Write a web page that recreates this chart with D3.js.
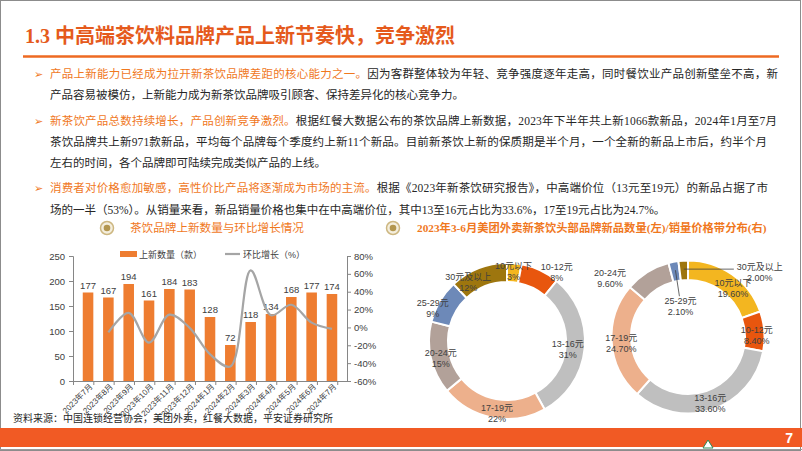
<!DOCTYPE html>
<html>
<head>
<meta charset="utf-8">
<script src="https://cdnjs.cloudflare.com/ajax/libs/d3/7.8.5/d3.min.js"></script>
<style>
  body { margin: 0; background: #fff; }
  svg { display: block; }
</style>
</head>
<body>
<div id="page"></div>
<script>
// ---- data ----
const months = ['2023年7月', '2023年8月', '2023年9月', '2023年10月', '2023年11月', '2023年12月',
  '2024年1月', '2024年2月', '2024年3月', '2024年4月', '2024年5月', '2024年6月', '2024年7月'];
const newCount = [177, 167, 194, 161, 184, 183, 128, 72, 118, 134, 168, 177, 174];
const momGrowth = [null, -5.6, 16.2, -17.0, 14.3, -0.5, -30.1, -43.8, 63.9, 13.6, 25.4, 5.4, -1.7];
const countTicks = [0, 50, 100, 150, 200, 250];
const growthTicks = [-60, -40, -20, 0, 20, 40, 60, 80];

const priceBands = ['10元以下', '10-12元', '13-16元', '17-19元', '20-24元', '25-29元', '30元及以上'];
const newProductShare = [3, 8, 31, 22, 15, 9, 12];
const salesShare = [19.6, 8.4, 33.6, 24.7, 9.6, 2.1, 2.0];

const paragraphs = [
  [['产品上新能力已经成为拉开新茶饮品牌差距的核心能力之一。', '因为客群整体较为年轻、竞争强度逐年走高，同时餐饮业产品创新壁垒不高，新'],
   ['', '产品容易被模仿，上新能力成为新茶饮品牌吸引顾客、保持差异化的核心竞争力。']],
  [['新茶饮产品总数持续增长，产品创新竞争激烈。', '根据红餐大数据公布的茶饮品牌上新数据，2023年下半年共上新1066款新品，2024年1月至7月'],
   ['', '茶饮品牌共上新971款新品，平均每个品牌每个季度约上新11个新品。目前新茶饮上新的保质期是半个月，一个全新的新品上市后，约半个月'],
   ['', '左右的时间，各个品牌即可陆续完成类似产品的上线。']],
  [['消费者对价格愈加敏感，高性价比产品将逐渐成为市场的主流。', '根据《2023年新茶饮研究报告》，中高端价位（13元至19元）的新品占据了市'],
   ['', '场的一半（53%）。从销量来看，新品销量价格也集中在中高端价位，其中13至16元占比为33.6%，17至19元占比为24.7%。']]
];

// ---- styles ----
const W = 802, H = 451;
const orange = '#EE6A22';
const hiOrange = '#F0781E';
const bandColors = ['#F3B620', '#E8560E', '#BFBFBF', '#EDB08C', '#B2A199', '#6D89B8', '#9E760E'];
const serif = '"Liberation Serif", "Noto Sans CJK SC", serif';
const sans = '"Liberation Sans", "Noto Sans CJK SC", sans-serif';

const svg = d3.select('#page').append('svg')
  .attr('width', W)
  .attr('height', H);

svg.append('rect')
  .attr('x', 0.5).attr('y', 0.5)
  .attr('width', W - 2).attr('height', H - 1)
  .attr('fill', '#fff')
  .attr('stroke', '#8c8c8c');

// ---- heading ----
svg.append('text')
  .attr('x', 25).attr('y', 43)
  .attr('font-family', serif)
  .attr('font-size', 20)
  .attr('font-weight', 'bold')
  .attr('fill', '#E55A1C')
  .text('1.3 中高端茶饮料品牌产品上新节奏快，竞争激烈');

svg.append('line')
  .attr('x1', 23).attr('x2', 779)
  .attr('y1', 56.5).attr('y2', 56.5)
  .attr('stroke', orange)
  .attr('stroke-width', 2.5);

// ---- body text ----
const lineYs = [[78, 99], [125, 146, 167], [192, 214]];
const justify = [[728, null], [727, 717, null], [718, null]];

paragraphs.forEach((para, pi) => {
  para.forEach((ln, li) => {
    const y = lineYs[pi][li];
    if (li === 0) {
      svg.append('text')
        .attr('x', 34).attr('y', y)
        .attr('font-family', '"DejaVu Sans", sans-serif')
        .attr('font-size', 11)
        .attr('fill', hiOrange)
        .text('➢');
    }
    const t = svg.append('text')
      .attr('x', 50).attr('y', y)
      .attr('font-family', serif)
      .attr('font-size', 11.5)
      .attr('fill', '#262626');
    if (ln[0]) t.append('tspan').attr('fill', hiOrange).text(ln[0]);
    t.append('tspan').text(ln[1]);
    const target = justify[pi][li];
    if (target) {
      const natural = t.node().getComputedTextLength();
      const n = (ln[0] + ln[1]).length;
      t.attr('letter-spacing', (target - natural) / (n - 1));
    }
  });
});

// ---- sub-titles with icons ----
function icon(cx, cy) {
  svg.append('circle').attr('cx', cx).attr('cy', cy).attr('r', 6.5)
    .attr('fill', '#F4EEDD').attr('stroke', '#CDB781').attr('stroke-width', 1.5);
  svg.append('circle').attr('cx', cx).attr('cy', cy).attr('r', 3.3)
    .attr('fill', '#B3964F');
}
icon(107, 228);
svg.append('text')
  .attr('x', 130).attr('y', 232)
  .attr('font-family', serif)
  .attr('font-size', 11.6)
  .attr('fill', hiOrange)
  .text('茶饮品牌上新数量与环比增长情况');

icon(393, 228);
svg.append('text')
  .attr('x', 417).attr('y', 232)
  .attr('font-family', serif)
  .attr('font-size', 11.3)
  .attr('font-weight', 'bold')
  .attr('fill', hiOrange)
  .text('2023年3-6月美团外卖新茶饮头部品牌新品数量(左)/销量价格带分布(右)');

// ---- combo chart ----
const chart = { left: 73, right: 347, top: 256, bottom: 381 };

const xScale = d3.scaleBand()
  .domain(months)
  .range([chart.left, chart.right])
  .padding(0.48);

const yCount = d3.scaleLinear()
  .domain([0, 250])
  .range([chart.bottom, chart.top]);

const yGrowth = d3.scaleLinear()
  .domain([-60, 80])
  .range([chart.bottom, chart.top]);

const axisColor = '#868686';
const tickFont = g => g.selectAll('text')
  .attr('font-family', sans)
  .attr('font-size', 9.5)
  .attr('fill', '#404040');

const leftAxis = svg.append('g')
  .attr('transform', `translate(${chart.left},0)`)
  .call(d3.axisLeft(yCount).tickValues(countTicks).tickSize(4).tickPadding(4))
  .call(tickFont);
leftAxis.selectAll('path, line').attr('stroke', axisColor);

const rightAxis = svg.append('g')
  .attr('transform', `translate(${chart.right},0)`)
  .call(d3.axisRight(yGrowth).tickValues(growthTicks).tickSize(4).tickPadding(3)
    .tickFormat(d => d + '%'))
  .call(tickFont);
rightAxis.selectAll('path, line').attr('stroke', axisColor);

svg.append('g')
  .selectAll('rect')
  .data(newCount)
  .join('rect')
    .attr('x', (d, i) => xScale(months[i]))
    .attr('y', d => yCount(d))
    .attr('width', xScale.bandwidth())
    .attr('height', d => yCount(0) - yCount(d))
    .attr('fill', '#EE7D31');

svg.append('g')
  .selectAll('text')
  .data(newCount)
  .join('text')
    .attr('x', (d, i) => xScale(months[i]) + xScale.bandwidth() / 2)
    .attr('y', d => yCount(d) - 4)
    .attr('text-anchor', 'middle')
    .attr('font-family', sans)
    .attr('font-size', 9.5)
    .attr('fill', '#404040')
    .text(d => d);

// bottom axis with ticks between categories
const bottom = svg.append('g');
bottom.append('line')
  .attr('x1', chart.left).attr('x2', chart.right)
  .attr('y1', chart.bottom + 0.5).attr('y2', chart.bottom + 0.5)
  .attr('stroke', axisColor);
bottom.selectAll('line.tick')
  .data(months.concat(['end']))
  .join('line')
    .attr('class', 'tick')
    .attr('x1', (d, i) => chart.left + i * xScale.step() + 0.5)
    .attr('x2', (d, i) => chart.left + i * xScale.step() + 0.5)
    .attr('y1', chart.bottom)
    .attr('y2', chart.bottom + 4)
    .attr('stroke', axisColor);
bottom.selectAll('text')
  .data(months)
  .join('text')
    .attr('transform', d => `translate(${xScale(d) + xScale.bandwidth() / 2 + 5},${chart.bottom + 6}) rotate(-45)`)
    .attr('text-anchor', 'end')
    .attr('font-family', sans)
    .attr('font-size', 8)
    .attr('fill', '#404040')
    .text(d => d);

const growthLine = d3.line()
  .defined(d => d != null)
  .x((d, i) => xScale(months[i]) + xScale.bandwidth() / 2)
  .y(d => yGrowth(d))
  .curve(d3.curveCatmullRom.alpha(0.5));

svg.append('path')
  .datum(momGrowth)
  .attr('fill', 'none')
  .attr('stroke', '#A5A5A5')
  .attr('stroke-width', 2.2)
  .attr('d', growthLine);

// legend
svg.append('rect')
  .attr('x', 120).attr('y', 251)
  .attr('width', 17).attr('height', 6)
  .attr('fill', '#EE7D31');
svg.append('text')
  .attr('x', 139).attr('y', 257.5)
  .attr('font-family', sans).attr('font-size', 9)
  .attr('fill', '#404040')
  .text('上新数量（款）');
svg.append('line')
  .attr('x1', 225).attr('x2', 240)
  .attr('y1', 254).attr('y2', 254)
  .attr('stroke', '#A5A5A5').attr('stroke-width', 2.2);
svg.append('text')
  .attr('x', 243).attr('y', 257.5)
  .attr('font-family', sans).attr('font-size', 9)
  .attr('fill', '#404040')
  .text('环比增长（%）');

// ---- donuts ----
const leftLabelShift = [[0, 0], [20, -6], [-9, 1], [3, 3], [2, 2], [-14, 3], [-13, 6]];
const rightLabelShift = [[7, 5], [3, 3], [1, 3], [-1, 2], [-43, -3], [5, 34], [76, 1]];
const rightLeaders = [false, false, false, false, false, true, true];

function donut(cfg) {
  const pie = d3.pie().sort(null).value(d => d);
  const arcs = pie(cfg.values);
  const arc = d3.arc().innerRadius(cfg.inner).outerRadius(cfg.outer);
  const labelArc = d3.arc().innerRadius(cfg.labelR).outerRadius(cfg.labelR);
  const g = svg.append('g').attr('transform', `translate(${cfg.cx},${cfg.cy})`);

  g.selectAll('path')
    .data(arcs)
    .join('path')
      .attr('d', arc)
      .attr('fill', (d, i) => bandColors[i])
      .attr('stroke', '#fff')
      .attr('stroke-width', 2);

  const pos = arcs.map((d, i) => {
    const c = labelArc.centroid(d);
    return { c, x: c[0] + cfg.shift[i][0], y: c[1] + cfg.shift[i][1] };
  });

  if (cfg.leaders) {
    g.selectAll('line.leader')
      .data(arcs.filter((d, i) => cfg.leaders[i]))
      .join('line')
        .attr('class', 'leader')
        .attr('x1', d => pos[d.index].c[0])
        .attr('y1', d => pos[d.index].c[1] - 2)
        .attr('x2', d => d.index === 6 ? pos[d.index].x - 26 : pos[d.index].x - 1)
        .attr('y2', d => d.index === 6 ? pos[d.index].c[1] - 2 : pos[d.index].y - 10)
        .attr('stroke', '#404040')
        .attr('stroke-width', 0.8);
  }

  const lbl = g.selectAll('text.lbl')
    .data(arcs)
    .join('text')
      .attr('class', 'lbl')
      .attr('text-anchor', 'middle')
      .attr('font-family', sans)
      .attr('font-size', 9)
      .attr('fill', '#404040');
  lbl.append('tspan')
    .attr('x', d => pos[d.index].x)
    .attr('y', d => pos[d.index].y - 2)
    .text(d => priceBands[d.index]);
  lbl.append('tspan')
    .attr('x', d => pos[d.index].x)
    .attr('y', d => pos[d.index].y + 9)
    .text(d => cfg.fmt(d.data));
}

donut({
  values: newProductShare, cx: 507, cy: 341, outer: 78, inner: 59, labelR: 70,
  shift: leftLabelShift, fmt: d => d + '%'
});
donut({
  values: salesShare, cx: 688, cy: 337, outer: 76.5, inner: 57, labelR: 66,
  shift: rightLabelShift, leaders: rightLeaders, fmt: d => d3.format('.2f')(d) + '%'
});

// ---- footer ----
svg.append('text')
  .attr('x', 13).attr('y', 422)
  .attr('font-family', serif)
  .attr('font-size', 10)
  .attr('fill', '#262626')
  .text('资料来源：中国连锁经营协会，美团外卖，红餐大数据，平安证券研究所');

svg.append('rect')
  .attr('x', 0).attr('y', 428)
  .attr('width', W).attr('height', 19)
  .attr('fill', '#F15A24');

svg.append('text')
  .attr('x', 793).attr('y', 443)
  .attr('text-anchor', 'end')
  .attr('font-family', sans)
  .attr('font-size', 14)
  .attr('font-weight', 'bold')
  .attr('fill', '#fff')
  .text('7');

svg.append('path')
  .attr('d', 'M703,448 L708,440 L713,448 Z')
  .attr('fill', '#fff')
  .attr('stroke', '#2E8B57')
  .attr('stroke-width', 1);

svg.append('line')
  .attr('x1', 0).attr('x2', W)
  .attr('y1', 449.5).attr('y2', 449.5)
  .attr('stroke', '#9a9a9a');
</script>
</body>
</html>
